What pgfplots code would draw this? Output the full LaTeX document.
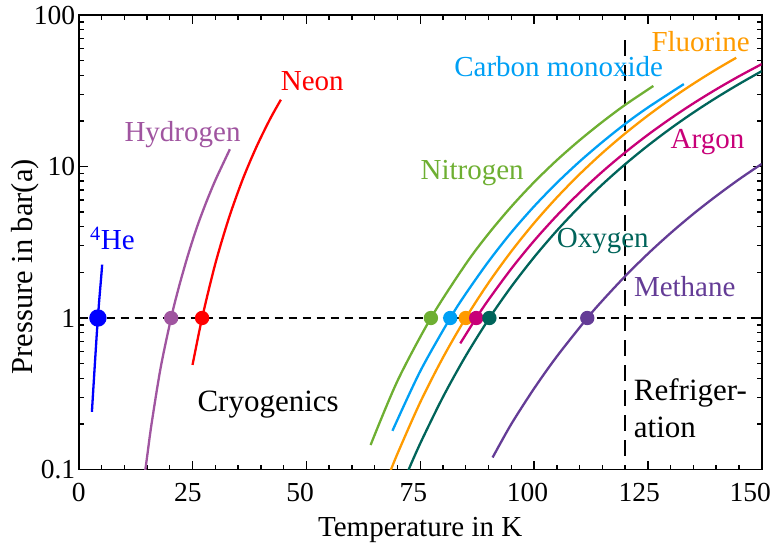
\documentclass[border=0pt]{standalone}
\usepackage{pgfplots}
\pgfplotsset{compat=1.18}
\usepackage{fontspec}
\setmainfont{Liberation Serif}
\definecolor{cHe}{RGB}{0,0,255}
\definecolor{cH}{RGB}{160,85,160}
\definecolor{cNe}{RGB}{255,0,0}
\definecolor{cN}{RGB}{110,175,50}
\definecolor{cCO}{RGB}{0,160,245}
\definecolor{cF}{RGB}{255,155,0}
\definecolor{cAr}{RGB}{200,0,120}
\definecolor{cO}{RGB}{0,100,90}
\definecolor{cCH}{RGB}{100,60,150}
\begin{document}
\begin{tikzpicture}[font=\fontsize{29}{34}\selectfont]
\begin{axis}[
  name=main,
  at={(78.7pt,73.5pt)}, anchor=south west,
  width=683pt, height=454.5pt, scale only axis,
  xmin=0, xmax=150, ymode=log, ymin=0.1, ymax=100,
  xtick={0,25,50,75,100,125,150}, xticklabels={},
  extra x ticks={0,23.96,48.65,73.5,98.55,123.1,147.5},
  extra x tick labels={0,25,50,75,100,125,150},
  extra x tick style={major tick length=0pt},
  minor x tick num=4,
  ytick={0.1,1,10,100}, yticklabels={0.1,1,10,100},
  /pgf/number format/assume math mode=true,
  tick align=inside,
  major tick length=9pt, minor tick length=5pt,
  every tick/.style={black, line width=1.4pt},
  axis line style={line width=1.6pt},
  xticklabel style={font=\fontsize{27.5}{32}\selectfont, yshift=-10.5pt},
  yticklabel style={font=\fontsize{27.5}{32}\selectfont},
  xlabel={Temperature in K}, ylabel={Pressure in bar(a)},
  xlabel style={font=\fontsize{29}{34}\selectfont, at={(axis description cs:0.5,-0.133)}, anchor=center},
  ylabel style={font=\fontsize{30.5}{36}\selectfont, at={(axis description cs:-0.0786,0.446)}, anchor=center},
  clip mode=individual,
  every axis plot/.append style={line width=2.3pt},
]
% reference lines
\addplot[black, line width=2pt, dash pattern=on 8pt off 6pt] coordinates {(0,1) (150,1)};
\addplot[black, line width=2pt, dash pattern=on 16pt off 9pt] coordinates {(120,68) (120,0.1)};
% Helium-4
\addplot[cHe, smooth] coordinates {(2.9,0.24) (3.5,0.47) (4.0,0.81) (4.22,1.0) (4.5,1.30) (5.0,1.96) (5.15,2.25)};
% Hydrogen
\addplot[cH, smooth] coordinates {(14.0,0.072) (15,0.12) (16,0.2) (18,0.47) (20.3,1.0) (22,1.6) (24,2.6) (26,4.0) (28,5.8) (30,8.1) (32,10.9) (33.2,13.0)};
% Neon
\addplot[cNe, smooth] coordinates {(25.0,0.49) (27.1,1.0) (30,2.28) (33,4.58) (36,8.2) (39,13.4) (42,20.5) (44.4,27.6)};
% Nitrogen
\addplot[cN, smooth] coordinates {(64.1,0.145) (70,0.384) (77.35,1.0) (85,2.27) (90,3.60) (95,5.43) (100,7.87) (105,11.0) (110,14.9) (115,19.7) (120,25.5) (126.2,34.0)};
% Carbon monoxide
\addplot[cCO, smooth] coordinates {(68.9,0.18) (75,0.445) (81.6,1.0) (85,1.445) (90,2.36) (95,3.67) (100,5.45) (105,7.79) (110,10.78) (115,14.5) (120,19.1) (125,24.5) (132.9,35.0)};
% Fluorine
\addplot[cF, smooth] coordinates {(68,0.09) (70,0.127) (75,0.2775) (80,0.548) (85,1.0) (90,1.706) (95,2.751) (100,4.23) (105,6.24) (110,8.89) (115,12.28) (120,16.51) (125,21.68) (130,27.88) (135,35.2) (140,43.7) (144.4,52.2)};
% Argon
\addplot[cAr, smooth] coordinates {(83.8,0.68) (87.3,1.0) (90,1.319) (95,2.113) (100,3.23) (105,4.74) (110,6.72) (115,9.24) (120,12.37) (125,16.19) (130,20.74) (135,26.1) (140,32.3) (145,39.4) (150,47.4)};
% Oxygen
\addplot[cO, smooth] coordinates {(72,0.0927) (75,0.1485) (80,0.301) (85,0.562) (90.2,1.0) (95,1.609) (100,2.515) (105,3.77) (110,5.44) (115,7.61) (120,10.35) (125,13.73) (130,17.83) (135,22.71) (140,28.4) (145,35.0) (150,42.6)};
% Methane
\addplot[cCH, smooth] coordinates {(90.9,0.12) (95,0.1994) (100,0.342) (105,0.557) (111.7,1.0) (115,1.301) (120,1.886) (125,2.653) (130,3.636) (135,4.87) (140,6.38) (145,8.22) (150,10.4)};
% boiling points
\addplot[cHe, only marks, mark=*, mark size=7.5pt] coordinates {(4.22,1)};
\addplot[cH, only marks, mark=*, mark size=6pt] coordinates {(20.3,1)};
\addplot[cNe, only marks, mark=*, mark size=6pt] coordinates {(27.1,1)};
\addplot[cN, only marks, mark=*, mark size=6pt] coordinates {(77.35,1)};
\addplot[cCO, only marks, mark=*, mark size=6pt] coordinates {(81.6,1)};
\addplot[cF, only marks, mark=*, mark size=6pt] coordinates {(85.0,1)};
\addplot[cAr, only marks, mark=*, mark size=6pt] coordinates {(87.3,1)};
\addplot[cO, only marks, mark=*, mark size=6pt] coordinates {(90.2,1)};
\addplot[cCH, only marks, mark=*, mark size=6pt] coordinates {(111.7,1)};
% labels
\node[cHe] at (axis cs:7.4,3.33) {\textsuperscript{4}He};
\node[cH] at (axis cs:22.8,16.3) {Hydrogen};
\node[cNe] at (axis cs:51.3,36.7) {Neon};
\node[black, font=\fontsize{31}{37}\selectfont] at (axis cs:41.6,0.27) {Cryogenics};
\node[cN] at (axis cs:86.4,9.1) {Nitrogen};
\node[cCO] at (axis cs:105.4,46.0) {Carbon monoxide};
\node[cF] at (axis cs:136.6,66.3) {Fluorine};
\node[cAr] at (axis cs:138.1,14.5) {Argon};
\node[cO] at (axis cs:115.1,3.2) {Oxygen};
\node[cCH] at (axis cs:133.1,1.6) {Methane};
\node[black, anchor=west, align=left, inner sep=0pt, font=\fontsize{31}{37}\selectfont] at (axis cs:121.9,0.255) {Refriger-\\ation};
\end{axis}
\pgfresetboundingbox
\path[use as bounding box] (0,0) rectangle (773pt,543pt);
\end{tikzpicture}
\end{document}
